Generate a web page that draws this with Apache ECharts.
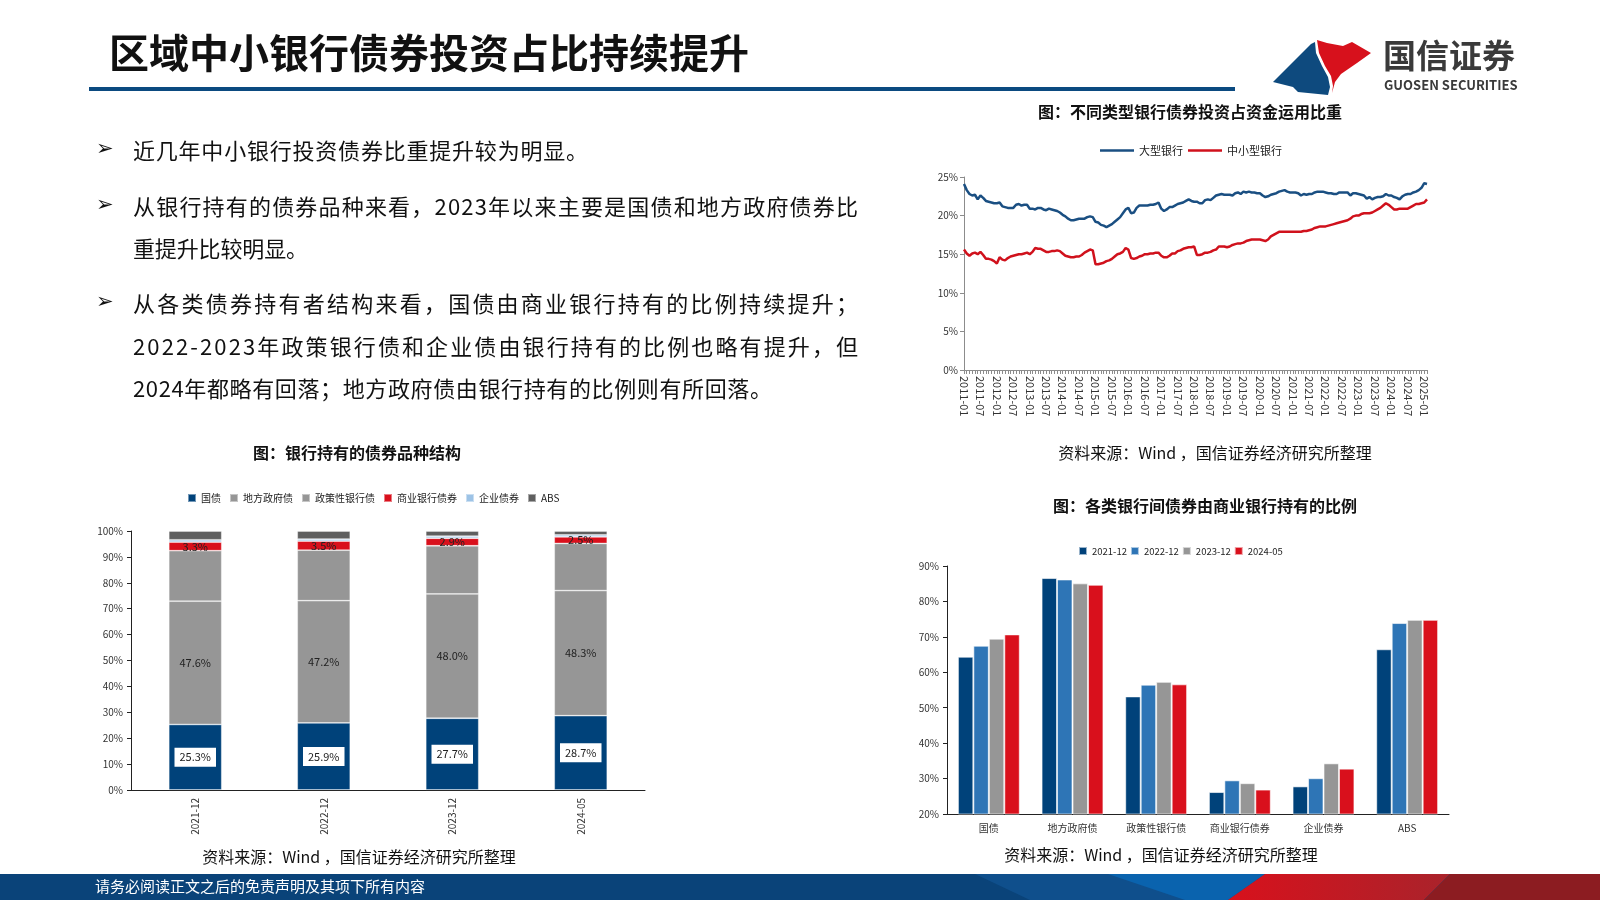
<!DOCTYPE html>
<html><head><meta charset="utf-8">
<script src="https://cdn.jsdelivr.net/npm/echarts@6/dist/echarts.min.js"></script>
<style>html,body{margin:0;padding:0;background:#fff}#c{width:1600px;height:900px}</style>
</head><body><div id="c"></div>
<script>
// ---------- Data ----------
// 不同类型银行债券投资占资金运用比重 (monthly, 2011-01 .. 2025-02), %
const bigBank = [
 24.1,23.3,22.8,22.6,22.7,22.1,22.6,22.3,21.9,21.8,21.7,21.6,
 21.6,21.7,21.2,21.1,21.0,21.0,21.0,21.4,21.5,21.3,21.4,21.4,
 20.9,20.9,20.8,21.0,21.0,20.8,20.7,20.9,20.8,20.7,20.6,20.4,
 20.1,19.9,19.6,19.4,19.4,19.5,19.6,19.6,19.6,19.8,19.9,19.8,
 19.2,19.1,18.8,18.7,18.5,18.7,18.9,19.2,19.5,19.8,20.3,20.8,
 21.0,20.3,20.4,21.0,21.3,21.3,21.3,21.3,21.4,21.4,21.5,21.7,
 20.9,20.6,20.8,21.1,21.1,21.3,21.5,21.6,21.7,21.9,22.1,21.9,
 21.8,21.8,21.6,21.6,22.0,22.1,22.0,22.3,22.6,22.7,22.8,22.7,
 22.7,22.7,22.6,22.9,23.0,22.8,23.1,23.0,23.1,23.0,23.0,22.9,
 22.9,22.6,22.4,22.5,22.7,22.8,22.9,23.1,23.2,23.3,23.1,23.0,
 23.0,23.0,22.9,22.6,22.8,22.7,22.8,22.8,23.0,23.1,23.1,23.1,
 23.0,22.9,22.9,22.8,22.8,23.0,23.0,23.0,23.0,22.6,22.9,22.9,
 22.8,22.7,22.6,22.2,22.4,22.1,22.3,22.4,22.4,22.5,22.8,22.6,
 22.6,22.4,22.3,22.1,22.5,22.7,22.8,22.8,23.0,23.1,23.3,23.6,
 24.2,24.1
];
const smallBank = [
 15.6,15.1,14.8,15.1,15.2,15.0,15.3,14.9,14.4,14.4,14.3,14.1,
 13.8,14.6,14.3,14.2,14.5,14.7,14.8,14.9,15.0,15.0,15.1,15.2,
 15.0,15.3,15.8,15.7,15.7,15.5,15.3,15.3,15.4,15.4,15.5,15.4,
 15.1,14.8,14.7,14.6,14.6,14.7,14.7,14.9,15.2,15.4,15.6,15.5,
 13.7,13.7,13.8,13.9,14.1,14.2,14.4,14.7,15.0,15.1,15.3,15.8,
 15.6,14.5,14.4,14.5,14.7,14.8,15.0,15.0,15.1,15.1,15.2,15.2,
 14.8,14.6,14.6,14.8,15.1,15.1,15.4,15.5,15.7,15.8,15.9,15.9,
 16.0,14.9,14.9,15.0,15.2,15.2,15.3,15.5,15.6,16.0,16.0,16.0,
 15.9,16.0,16.2,16.3,16.4,16.4,16.5,16.7,16.8,16.9,16.9,16.9,
 16.9,16.8,16.7,16.9,17.3,17.5,17.7,17.9,17.9,17.9,17.9,17.9,
 17.9,17.9,17.9,17.9,18.0,18.0,18.1,18.2,18.4,18.5,18.6,18.6,
 18.6,18.7,18.8,18.9,19.0,19.1,19.2,19.3,19.4,19.6,19.9,20.0,
 20.0,20.2,20.3,20.3,20.3,20.4,20.6,20.8,21.0,21.3,21.6,21.4,
 21.1,20.8,20.8,20.9,20.9,20.9,20.9,21.1,21.3,21.5,21.5,21.6,
 21.7,22.1
];
const lineSeriesNames = ['大型银行','中小型银行'];
const startYear = 2011;
const months = [];
for (let i = 0; i < bigBank.length; i++) {
  const y = startYear + Math.floor(i / 12), m = i % 12 + 1;
  months.push(y + '-' + (m < 10 ? '0' + m : '' + m));
}

// 银行持有的债券品种结构, %
const holdCats = ['2021-12','2022-12','2023-12','2024-05'];
const holdNames = ['国债','地方政府债','政策性银行债','商业银行债券','企业债券','ABS'];
const hGuozhai = [25.3,25.9,27.7,28.7];
const hDifang  = [47.6,47.2,48.0,48.3];
const hZhengce = [19.5,19.5,18.6,18.2];
const hShangye = [3.3,3.5,2.9,2.5];
const hQiye    = [0.9,0.8,0.8,0.8];
const hAbs     = [3.4,3.1,2.0,1.5];

// 各类银行间债券由商业银行持有的比例, %
const bondCats = ['国债','地方政府债','政策性银行债','商业银行债券','企业债券','ABS'];
const periodNames = ['2021-12','2022-12','2023-12','2024-05'];
const r2021 = [64.4,86.6,53.2,26.2,27.8,66.5];
const r2022 = [67.5,86.2,56.5,29.5,30.1,73.9];
const r2023 = [69.5,85.1,57.3,28.7,34.3,74.8];
const r2024 = [70.7,84.7,56.6,26.9,32.8,74.8];

// ---------- Chart ----------
const FONT = '"Noto Sans CJK SC","Noto Sans",sans-serif';
const chart = echarts.init(document.getElementById('c'), null, {renderer:'canvas'});

const axLbl = {fontSize:10, color:'#333', fontFamily:FONT};
const bodyLines = [
  {t:'近几年中小银行投资债券比重提升较为明显。', y:151, b:true, end:588},
  {t:'从银行持有的债券品种来看，2023年以来主要是国债和地方政府债券比', y:207, b:true, end:858},
  {t:'重提升比较明显。', y:249, b:false, end:308},
  {t:'从各类债券持有者结构来看，国债由商业银行持有的比例持续提升；', y:304, b:true, end:858},
  {t:'2022-2023年政策银行债和企业债由银行持有的比例也略有提升，但', y:347, b:false, end:858},
  {t:'2024年都略有回落；地方政府债由银行持有的比例则有所回落。', y:389, b:false, end:772}
];
const graphics = [];
// title
graphics.push({type:'text', left:109, top:33, style:{text:'区域中小银行债券投资占比持续提升', fontSize:40, fontWeight:'bold', fill:'#111', fontFamily:FONT}});
graphics.push({type:'rect', shape:{x:89, y:87, width:1146, height:4}, style:{fill:'#0B4A80'}});
// logo
graphics.push({type:'polygon', shape:{points:[[1273,82],[1311,44],[1315,42],[1316,53],[1322,66],[1328,77],[1330,87],[1328,95],[1298,92],[1293,87]]}, style:{fill:'#0E4A7E'}});
graphics.push({type:'polygon', shape:{points:[[1317,40],[1327,43],[1343,46],[1352,42],[1371,53],[1357,63],[1341,74],[1335,82],[1332,93],[1333,86],[1331,76],[1325,66],[1319,53]]}, style:{fill:'#D7111C'}});
graphics.push({type:'text', left:1383, top:39, style:{text:'国信证券', fontSize:33, fontWeight:'bold', fill:'#3a3a3a', fontFamily:FONT}});
graphics.push({type:'text', left:1384, top:79, style:{text:'GUOSEN SECURITIES', fontSize:13, fontWeight:'bold', fill:'#3a3a3a', fontFamily:FONT}});
// body text (justified character placement)
const BODY_SIZE = 22;
const mctx = document.createElement('canvas').getContext('2d');
mctx.font = BODY_SIZE + 'px "Noto Sans CJK SC"';
bodyLines.forEach(l => {
  if (l.b) graphics.push({type:'text', left:96, top:l.y-12, style:{text:'➢', fontSize:21, fill:'#111', fontFamily:'"DejaVu Sans"'}});
  const chars = Array.from(l.t);
  const widths = chars.map(c => mctx.measureText(c).width);
  const total = widths.reduce((a,b)=>a+b,0);
  const startX = 133;
  const extra = chars.length > 1 ? ((l.end - startX) - total) / (chars.length - 1) : 0;
  let x = startX;
  chars.forEach((c,i) => {
    graphics.push({type:'text', x:x, y:l.y, style:{text:c, fontSize:BODY_SIZE, fill:'#111', fontFamily:FONT, verticalAlign:'middle'}});
    x += widths[i] + extra;
  });
});
// chart titles and sources
function ctext(txt, cx, cy, size, bold){
  graphics.push({type:'text', x:cx, y:cy, style:{text:txt, fontSize:size, fontWeight:bold?'bold':'normal', fill:'#111', fontFamily:FONT, align:'center', verticalAlign:'middle'}});
}
ctext('图：不同类型银行债券投资占资金运用比重', 1190, 112, 16, true);
ctext('资料来源：Wind ，国信证券经济研究所整理', 1215, 453, 16, false);
ctext('图：银行持有的债券品种结构', 357, 453, 16, true);
ctext('资料来源：Wind ，国信证券经济研究所整理', 359, 857, 16, false);
ctext('图：各类银行间债券由商业银行持有的比例', 1205, 506, 16, true);
ctext('资料来源：Wind ，国信证券经济研究所整理', 1161, 855, 16, false);
// footer
graphics.push({type:'rect', shape:{x:0, y:874, width:1600, height:26}, style:{fill:'#0A4379'}});
graphics.push({type:'polygon', shape:{points:[[975,874],[1265,874],[1228,900],[1030,900]]}, style:{fill:'#0F4F8C'}});
graphics.push({type:'polygon', shape:{points:[[1108,874],[1265,874],[1228,900],[1185,900]]}, style:{fill:'#0A63AE'}});
graphics.push({type:'polygon', shape:{points:[[1265,874],[1450,874],[1424,900],[1228,900]]}, style:{fill:new echarts.graphic.LinearGradient(0,0,1,0,[{offset:0,color:'#D8111C'},{offset:1,color:'#A9232B'}])}});
graphics.push({type:'polygon', shape:{points:[[1450,874],[1600,874],[1600,900],[1424,900]]}, style:{fill:'#8C1C21'}});
graphics.push({type:'text', left:95, top:879, style:{text:'请务必阅读正文之后的免责声明及其项下所有内容', fontSize:15, fill:'#fff', fontFamily:FONT}});

const holdColors = ['#00427A','#969696','#969696','#D9101C','#9DC3E6','#5F5F5F'];
const holdData = [hGuozhai,hDifang,hZhengce,hShangye,hQiye,hAbs];
const holdSeries = holdNames.map((n,i)=>{
  const s = {name:n, type:'bar', stack:'h', xAxisIndex:1, yAxisIndex:1, barWidth:53, data:holdData[i],
    itemStyle:{color:holdColors[i], borderColor:'rgba(255,255,255,0.45)', borderWidth:0.8}};
  if (i===0) s.label = {show:true, position:'inside', formatter:'{c}%', backgroundColor:'#fff', padding:[4,5], color:'#222', fontSize:11, fontFamily:FONT};
  if (i===1 || i===3) s.label = {show:true, position:'inside', formatter: p=>p.value.toFixed(1)+'%', color:'#222', fontSize:11, fontFamily:FONT};
  return s;
});
const periodColors = ['#00427A','#2E75B6','#969696','#D9101C'];
const periodData = [r2021,r2022,r2023,r2024];
const groupSeries = periodNames.map((n,i)=>({name:n, type:'bar', xAxisIndex:2, yAxisIndex:2, data:periodData[i],
  barGap:'0%', barCategoryGap:'26%', itemStyle:{color:periodColors[i], borderColor:'rgba(255,255,255,0.6)', borderWidth:1}}));

const option = {
  animation:false,
  textStyle:{fontFamily:FONT},
  graphic:graphics,
  legend:[
    {data:lineSeriesNames, left:1095, top:140, icon:'rect', itemWidth:34, itemHeight:2.5, itemGap:5, textStyle:{fontSize:11, color:'#222', fontFamily:FONT}},
    {data:holdNames, left:182, top:488, itemWidth:8, itemHeight:8, itemGap:8, icon:'rect', textStyle:{fontSize:10, color:'#222', fontFamily:FONT}},
    {data:periodNames, left:1073, top:541, itemWidth:8, itemHeight:8, itemGap:3, icon:'rect', textStyle:{fontSize:9.5, color:'#222', fontFamily:FONT}}
  ],
  grid:[
    {left:964, right:173, top:177, bottom:530},
    {left:131, right:955, top:531, bottom:110},
    {left:947, right:151, top:566, bottom:86}
  ],
  xAxis:[
    {type:'category', gridIndex:0, data:months, boundaryGap:false,
     axisLine:{lineStyle:{color:'#8c8c8c'}}, axisTick:{interval:0, length:4, lineStyle:{color:'#8c8c8c'}},
     axisLabel:Object.assign({}, axLbl, {interval:(i)=>i%6===0, rotate:-90, margin:6, fontSize:11})},
    {type:'category', gridIndex:1, data:holdCats,
     axisLine:{lineStyle:{color:'#222'}}, axisTick:{lineStyle:{color:'#222'}},
     axisLabel:Object.assign({rotate:90, margin:8}, axLbl)},
    {type:'category', gridIndex:2, data:bondCats,
     axisLine:{lineStyle:{color:'#222'}}, axisTick:{lineStyle:{color:'#222'}},
     axisLabel:Object.assign({margin:9}, axLbl)}
  ],
  yAxis:[
    {type:'value', gridIndex:0, min:0, max:25, interval:5, axisLine:{show:true, lineStyle:{color:'#8c8c8c'}}, axisTick:{show:true, length:4, lineStyle:{color:'#8c8c8c'}}, splitLine:{show:false},
     axisLabel:Object.assign({formatter:'{value}%', margin:6}, axLbl)},
    {type:'value', gridIndex:1, min:0, max:100, interval:10, axisLine:{show:true, lineStyle:{color:'#222'}}, axisTick:{show:true, length:4, lineStyle:{color:'#222'}}, splitLine:{show:false},
     axisLabel:Object.assign({formatter:'{value}%', margin:8}, axLbl)},
    {type:'value', gridIndex:2, min:20, max:90, interval:10, axisLine:{show:true, lineStyle:{color:'#222'}}, axisTick:{show:true, length:4, lineStyle:{color:'#222'}}, splitLine:{show:false},
     axisLabel:Object.assign({formatter:'{value}%', margin:8}, axLbl)}
  ],
  series:[
    {name:'大型银行', type:'line', xAxisIndex:0, yAxisIndex:0, data:bigBank, symbol:'none', lineStyle:{width:2.5, color:'#1A4F82'}, itemStyle:{color:'#1A4F82'}},
    {name:'中小型银行', type:'line', xAxisIndex:0, yAxisIndex:0, data:smallBank, symbol:'none', lineStyle:{width:2.5, color:'#D0111C'}, itemStyle:{color:'#D0111C'}}
  ].concat(holdSeries, groupSeries)
};
chart.setOption(option);
</script>
</body></html>
